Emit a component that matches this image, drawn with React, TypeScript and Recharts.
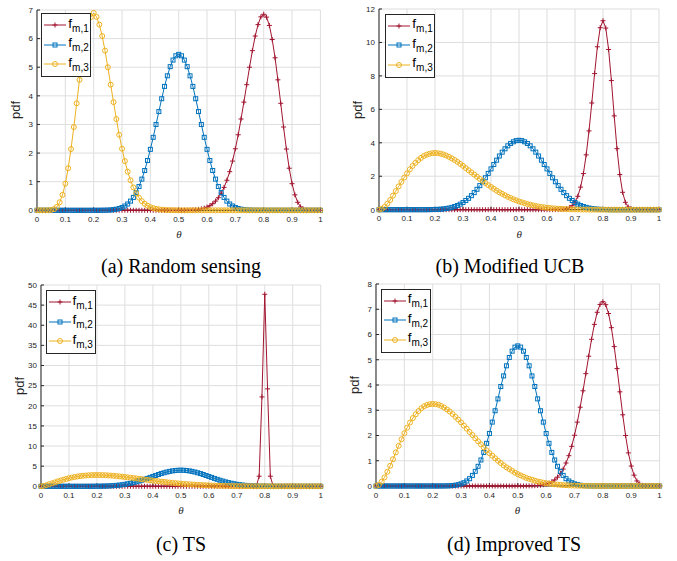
import React from 'react';
import { LineChart, Line, XAxis, YAxis, CartesianGrid } from 'recharts';

// theta grid, 0 to 1 in steps of 0.01
const THETA = [
  0, 0.01, 0.02, 0.03, 0.04, 0.05, 0.06, 0.07, 0.08, 0.09,
  0.1, 0.11, 0.12, 0.13, 0.14, 0.15, 0.16, 0.17, 0.18, 0.19,
  0.2, 0.21, 0.22, 0.23, 0.24, 0.25, 0.26, 0.27, 0.28, 0.29,
  0.3, 0.31, 0.32, 0.33, 0.34, 0.35, 0.36, 0.37, 0.38, 0.39,
  0.4, 0.41, 0.42, 0.43, 0.44, 0.45, 0.46, 0.47, 0.48, 0.49,
  0.5, 0.51, 0.52, 0.53, 0.54, 0.55, 0.56, 0.57, 0.58, 0.59,
  0.6, 0.61, 0.62, 0.63, 0.64, 0.65, 0.66, 0.67, 0.68, 0.69,
  0.7, 0.71, 0.72, 0.73, 0.74, 0.75, 0.76, 0.77, 0.78, 0.79,
  0.8, 0.81, 0.82, 0.83, 0.84, 0.85, 0.86, 0.87, 0.88, 0.89,
  0.9, 0.91, 0.92, 0.93, 0.94, 0.95, 0.96, 0.97, 0.98, 0.99,
  1,
];

const X_TICKS = [0, 0.1, 0.2, 0.3, 0.4, 0.5, 0.6, 0.7, 0.8, 0.9, 1];
const A_TICKS = [0, 1, 2, 3, 4, 5, 6, 7];
const B_TICKS = [0, 2, 4, 6, 8, 10, 12];
const C_TICKS = [0, 5, 10, 15, 20, 25, 30, 35, 40, 45, 50];
const D_TICKS = [0, 1, 2, 3, 4, 5, 6, 7, 8];

const CAPTIONS = ['(a) Random sensing', '(b) Modified UCB', '(c) TS', '(d) Improved TS'];
const SERIES_NAMES = ['m,1', 'm,2', 'm,3'];

// (a) Random sensing
const A_F1 = [
  0, 0, 0, 0, 0, 0, 0, 0, 0, 0,
  0, 0, 0, 0, 0, 0, 0, 0, 0, 0,
  0, 0, 0, 0, 0, 0, 0, 0, 0, 0,
  0, 0, 0, 0, 0, 0, 0, 0, 0, 0,
  0, 0, 0, 0, 0, 0, 0, 0, 0, 0,
  0.001, 0.002, 0.004, 0.006, 0.009, 0.014, 0.022, 0.034, 0.051, 0.076,
  0.11, 0.16, 0.23, 0.32, 0.44, 0.6, 0.8, 1.05, 1.35, 1.72,
  2.15, 2.64, 3.19, 3.78, 4.39, 5.0, 5.58, 6.09, 6.49, 6.76,
  6.85, 6.75, 6.46, 5.97, 5.33, 4.56, 3.74, 2.91, 2.14, 1.47,
  0.93, 0.54, 0.28, 0.12, 0.04, 0.013, 0.003, 0, 0, 0,
  0,
];
const A_F2 = [
  0, 0, 0, 0, 0, 0, 0, 0, 0, 0,
  0, 0, 0, 0, 0, 0, 0, 0, 0, 0,
  0, 0, 0.001, 0.002, 0.004, 0.007, 0.013, 0.023, 0.039, 0.063,
  0.099, 0.15, 0.22, 0.32, 0.45, 0.62, 0.83, 1.09, 1.39, 1.74,
  2.13, 2.55, 3.0, 3.45, 3.9, 4.33, 4.7, 5.02, 5.25, 5.4,
  5.45, 5.4, 5.25, 5.02, 4.7, 4.33, 3.9, 3.45, 3.0, 2.55,
  2.13, 1.74, 1.39, 1.09, 0.83, 0.62, 0.45, 0.32, 0.22, 0.15,
  0.099, 0.063, 0.039, 0.023, 0.013, 0.007, 0.004, 0.002, 0.001, 0,
  0, 0, 0, 0, 0, 0, 0, 0, 0, 0,
  0, 0, 0, 0, 0, 0, 0, 0, 0, 0,
  0,
];
const A_F3 = [
  0, 0, 0, 0, 0.003, 0.013, 0.04, 0.12, 0.28, 0.54,
  0.93, 1.47, 2.14, 2.91, 3.74, 4.56, 5.33, 5.97, 6.46, 6.75,
  6.9, 6.76, 6.49, 6.09, 5.58, 5.0, 4.39, 3.78, 3.19, 2.64,
  2.15, 1.72, 1.35, 1.05, 0.8, 0.6, 0.44, 0.32, 0.23, 0.16,
  0.11, 0.076, 0.051, 0.034, 0.022, 0.014, 0.009, 0.006, 0.004, 0.002,
  0.001, 0, 0, 0, 0, 0, 0, 0, 0, 0,
  0, 0, 0, 0, 0, 0, 0, 0, 0, 0,
  0, 0, 0, 0, 0, 0, 0, 0, 0, 0,
  0, 0, 0, 0, 0, 0, 0, 0, 0, 0,
  0, 0, 0, 0, 0, 0, 0, 0, 0, 0,
  0,
];

// (b) Modified UCB
const B_F1 = [
  0, 0, 0, 0, 0, 0, 0, 0, 0, 0,
  0, 0, 0, 0, 0, 0, 0, 0, 0, 0,
  0, 0, 0, 0, 0, 0, 0, 0, 0, 0,
  0, 0, 0, 0, 0, 0, 0, 0, 0, 0,
  0, 0, 0, 0, 0, 0, 0, 0, 0, 0,
  0, 0, 0, 0, 0, 0, 0, 0, 0, 0,
  0, 0, 0.001, 0.003, 0.006, 0.013, 0.029, 0.061, 0.125, 0.24,
  0.45, 0.8, 1.35, 2.16, 3.28, 4.71, 6.38, 8.14, 9.74, 10.88,
  11.3, 10.86, 9.58, 7.72, 5.61, 3.65, 2.1, 1.04, 0.44, 0.16,
  0.044, 0.01, 0.002, 0, 0, 0, 0, 0, 0, 0,
  0,
];
const B_F2 = [
  0, 0, 0, 0, 0, 0, 0, 0, 0, 0,
  0, 0, 0, 0, 0, 0, 0, 0, 0.004, 0.008,
  0.013, 0.02, 0.031, 0.047, 0.069, 0.098, 0.14, 0.19, 0.25, 0.33,
  0.43, 0.55, 0.68, 0.84, 1.02, 1.22, 1.44, 1.67, 1.91, 2.17,
  2.44, 2.7, 2.96, 3.21, 3.44, 3.64, 3.82, 3.96, 4.06, 4.13,
  4.15, 4.13, 4.06, 3.96, 3.82, 3.64, 3.44, 3.21, 2.96, 2.7,
  2.44, 2.17, 1.91, 1.67, 1.44, 1.22, 1.02, 0.84, 0.68, 0.55,
  0.43, 0.33, 0.25, 0.19, 0.14, 0.098, 0.069, 0.047, 0.031, 0.02,
  0.013, 0.008, 0.004, 0, 0, 0, 0, 0, 0, 0,
  0, 0, 0, 0, 0, 0, 0, 0, 0, 0,
  0,
];
const B_F3 = [
  0, 0.047, 0.17, 0.36, 0.58, 0.84, 1.11, 1.39, 1.66, 1.92,
  2.17, 2.41, 2.62, 2.8, 2.96, 3.1, 3.21, 3.29, 3.34, 3.38,
  3.39, 3.38, 3.35, 3.3, 3.24, 3.16, 3.07, 2.97, 2.86, 2.74,
  2.62, 2.49, 2.36, 2.23, 2.1, 1.97, 1.84, 1.72, 1.59, 1.47,
  1.36, 1.25, 1.14, 1.04, 0.95, 0.86, 0.77, 0.7, 0.62, 0.56,
  0.49, 0.44, 0.39, 0.34, 0.3, 0.26, 0.22, 0.19, 0.16, 0.14,
  0.12, 0.1, 0.084, 0.07, 0.058, 0.048, 0.039, 0.032, 0.026, 0.021,
  0.016, 0.013, 0.01, 0.008, 0.006, 0.004, 0.003, 0.002, 0.002, 0.001,
  0.001, 0, 0, 0, 0, 0, 0, 0, 0, 0,
  0, 0, 0, 0, 0, 0, 0, 0, 0, 0,
  0,
];

// (c) TS
const C_F1 = [
  0, 0, 0, 0, 0, 0, 0, 0, 0, 0,
  0, 0, 0, 0, 0, 0, 0, 0, 0, 0,
  0, 0, 0, 0, 0, 0, 0, 0, 0, 0,
  0, 0, 0, 0, 0, 0, 0, 0, 0, 0,
  0, 0, 0, 0, 0, 0, 0, 0, 0, 0,
  0, 0, 0, 0, 0, 0, 0, 0, 0, 0,
  0, 0, 0, 0, 0, 0, 0, 0, 0, 0,
  0, 0, 0, 0, 0, 0, 0, 0.05, 2.5, 22.2,
  47.7, 24.2, 2.5, 0.05, 0, 0, 0, 0, 0, 0,
  0, 0, 0, 0, 0, 0, 0, 0, 0, 0,
  0,
];
const C_F2 = [
  0, 0, 0, 0, 0, 0, 0, 0, 0, 0,
  0, 0, 0, 0, 0, 0.001, 0.002, 0.004, 0.007, 0.012,
  0.019, 0.029, 0.044, 0.064, 0.091, 0.13, 0.17, 0.23, 0.3, 0.39,
  0.49, 0.62, 0.76, 0.92, 1.09, 1.29, 1.5, 1.73, 1.96, 2.21,
  2.45, 2.69, 2.93, 3.16, 3.36, 3.55, 3.7, 3.83, 3.92, 3.98,
  4.0, 3.98, 3.92, 3.83, 3.7, 3.55, 3.36, 3.16, 2.93, 2.69,
  2.45, 2.21, 1.96, 1.73, 1.5, 1.29, 1.09, 0.92, 0.76, 0.62,
  0.49, 0.39, 0.3, 0.23, 0.17, 0.13, 0.091, 0.064, 0.044, 0.029,
  0.019, 0.012, 0.007, 0.004, 0.002, 0.001, 0, 0, 0, 0,
  0, 0, 0, 0, 0, 0, 0, 0, 0, 0,
  0,
];
const C_F3 = [
  0, 0.11, 0.3, 0.52, 0.75, 0.98, 1.21, 1.43, 1.64, 1.83,
  2.01, 2.17, 2.31, 2.43, 2.53, 2.62, 2.68, 2.74, 2.77, 2.79,
  2.8, 2.79, 2.78, 2.75, 2.71, 2.66, 2.6, 2.54, 2.46, 2.39,
  2.31, 2.23, 2.14, 2.05, 1.96, 1.87, 1.77, 1.68, 1.59, 1.5,
  1.41, 1.32, 1.24, 1.16, 1.08, 1.0, 0.92, 0.85, 0.78, 0.72,
  0.66, 0.6, 0.55, 0.5, 0.45, 0.4, 0.36, 0.32, 0.29, 0.26,
  0.23, 0.2, 0.18, 0.15, 0.13, 0.115, 0.099, 0.085, 0.072, 0.061,
  0.051, 0.042, 0.035, 0.029, 0.023, 0.019, 0.015, 0.012, 0.009, 0.007,
  0.005, 0.004, 0.003, 0.002, 0.001, 0.001, 0, 0, 0, 0,
  0, 0, 0, 0, 0, 0, 0, 0, 0, 0,
  0,
];

// (d) Improved TS
const D_F1 = [
  0, 0, 0, 0, 0, 0, 0, 0, 0, 0,
  0, 0, 0, 0, 0, 0, 0, 0, 0, 0,
  0, 0, 0, 0, 0, 0, 0, 0, 0, 0,
  0, 0, 0, 0, 0, 0, 0, 0, 0, 0,
  0, 0, 0, 0, 0, 0, 0, 0, 0, 0,
  0, 0, 0.001, 0.002, 0.004, 0.007, 0.012, 0.02, 0.031, 0.049,
  0.075, 0.11, 0.17, 0.24, 0.35, 0.49, 0.67, 0.91, 1.2, 1.57,
  2.01, 2.53, 3.12, 3.77, 4.45, 5.14, 5.81, 6.4, 6.88, 7.19,
  7.3, 7.18, 6.83, 6.27, 5.52, 4.65, 3.73, 2.82, 2.0, 1.31,
  0.79, 0.43, 0.2, 0.083, 0.027, 0.007, 0.001, 0, 0, 0,
  0,
];
const D_F2 = [
  0, 0, 0, 0, 0, 0, 0, 0, 0, 0,
  0, 0, 0, 0, 0, 0, 0, 0, 0, 0,
  0, 0, 0.001, 0.002, 0.003, 0.006, 0.01, 0.018, 0.032, 0.053,
  0.085, 0.13, 0.2, 0.29, 0.42, 0.58, 0.78, 1.03, 1.33, 1.69,
  2.08, 2.53, 2.98, 3.45, 3.94, 4.36, 4.76, 5.09, 5.34, 5.5,
  5.55, 5.5, 5.34, 5.09, 4.76, 4.36, 3.94, 3.45, 2.98, 2.53,
  2.08, 1.69, 1.33, 1.03, 0.78, 0.58, 0.42, 0.29, 0.2, 0.13,
  0.085, 0.053, 0.032, 0.018, 0.01, 0.006, 0.003, 0.002, 0.001, 0,
  0, 0, 0, 0, 0, 0, 0, 0, 0, 0,
  0, 0, 0, 0, 0, 0, 0, 0, 0, 0,
  0,
];
const D_F3 = [
  0, 0.045, 0.17, 0.34, 0.56, 0.8, 1.06, 1.33, 1.59, 1.85,
  2.09, 2.31, 2.51, 2.69, 2.84, 2.97, 3.08, 3.16, 3.21, 3.24,
  3.25, 3.24, 3.22, 3.17, 3.11, 3.03, 2.95, 2.85, 2.74, 2.63,
  2.52, 2.39, 2.27, 2.14, 2.02, 1.89, 1.77, 1.65, 1.53, 1.41,
  1.3, 1.2, 1.1, 1.0, 0.91, 0.82, 0.74, 0.67, 0.6, 0.53,
  0.47, 0.42, 0.37, 0.32, 0.28, 0.25, 0.21, 0.18, 0.16, 0.13,
  0.11, 0.097, 0.081, 0.067, 0.056, 0.046, 0.037, 0.031, 0.025, 0.02,
  0.015, 0.012, 0.01, 0.008, 0.006, 0.004, 0.003, 0.002, 0.002, 0.001,
  0.001, 0, 0, 0, 0, 0, 0, 0, 0, 0,
  0, 0, 0, 0, 0, 0, 0, 0, 0, 0,
  0,
];

const COLORS = ['#A2142F', '#0072BD', '#EDB120'];
const AXIS = '#262626';
const SANS = '"Liberation Sans", Arial, sans-serif';
const SERIF = '"Liberation Serif", "Times New Roman", serif';

// plot box in page pixels: [left, right, top, bottom]
const PANELS = [
  { box: [37.3, 320.7, 9.7, 210], yMax: 7, yTicks: A_TICKS, series: [A_F1, A_F2, A_F3], legend: [4, 3.5], captionX: 181, captionY: 266 },
  { box: [379.3, 659.3, 9.3, 210], yMax: 12, yTicks: B_TICKS, series: [B_F1, B_F2, B_F3], legend: [6, 4.5], captionX: 510, captionY: 266 },
  { box: [41, 320.7, 285, 486.3], yMax: 50, yTicks: C_TICKS, series: [C_F1, C_F2, C_F3], legend: [4.5, 5], captionX: 181, captionY: 544 },
  { box: [375.7, 659.3, 284.3, 486.3], yMax: 8, yTicks: D_TICKS, series: [D_F1, D_F2, D_F3], legend: [5, 4.5], captionX: 514, captionY: 544 },
];

const Y_AXIS_W = 40;
const X_AXIS_H = 30;
const M_TOP = 10;
const M_RIGHT = 10;

function Marker({ kind, cx, cy, color }: { kind: number; cx: number; cy: number; color: string }) {
  if (kind === 0) {
    return <path d={`M${cx - 2.5},${cy}h5M${cx},${cy - 2.5}v5`} stroke={color} strokeWidth={1} fill="none" />;
  }
  if (kind === 1) {
    return <rect x={cx - 2} y={cy - 2} width={4} height={4} stroke={color} strokeWidth={1} fill="none" />;
  }
  return <circle cx={cx} cy={cy} r={2.5} stroke={color} strokeWidth={1} fill="none" />;
}

const makeDot = (kind: number) => (p: any) => {
  const { cx, cy, index } = p;
  if (cx == null || cy == null) return <g key={`d-${kind}-${index}`} />;
  return (
    <g key={`d-${kind}-${index}`}>
      <Marker kind={kind} cx={cx} cy={cy} color={COLORS[kind]} />
    </g>
  );
};

function LegendBox({ left, top }: { left: number; top: number }) {
  return (
    <div
      style={{
        position: 'absolute', left, top, width: 50, height: 64, boxSizing: 'border-box',
        border: `1px solid ${AXIS}`, background: '#fff', fontFamily: SANS,
      }}
    >
      {SERIES_NAMES.map((name, i) => (
        <div key={name} style={{ position: 'absolute', left: 1, top: 2 + i * 19.5, height: 18, display: 'flex', alignItems: 'center' }}>
          <svg width={24} height={12} style={{ display: 'block' }}>
            <line x1={1} y1={6} x2={23} y2={6} stroke={COLORS[i]} strokeWidth={1} />
            <Marker kind={i} cx={12} cy={6} color={COLORS[i]} />
          </svg>
          <span style={{ fontSize: 13.5, color: '#000', lineHeight: '13px', marginLeft: 1 }}>
            f<sub style={{ fontSize: 10, verticalAlign: '-4px', lineHeight: '10px' }}>{name}</sub>
          </span>
        </div>
      ))}
    </div>
  );
}

function Panel({ cfg, caption }: { cfg: typeof PANELS[number]; caption: string }) {
  const [x0, x1, y0, y1] = cfg.box;
  const pw = x1 - x0;
  const ph = y1 - y0;
  const data = THETA.map((t, i) => ({ t, f1: cfg.series[0][i], f2: cfg.series[1][i], f3: cfg.series[2][i] }));
  const tickStyle = { fontSize: 8, fill: AXIS, fontFamily: SANS };
  return (
    <>
      <div style={{ position: 'absolute', left: x0 - Y_AXIS_W, top: y0 - M_TOP }}>
        <LineChart
          width={pw + Y_AXIS_W + M_RIGHT}
          height={ph + M_TOP + X_AXIS_H}
          data={data}
          margin={{ top: M_TOP, right: M_RIGHT, left: 0, bottom: 0 }}
        >
          <CartesianGrid stroke="#dedede" strokeWidth={1} />
          <XAxis
            dataKey="t" type="number" domain={[0, 1]} ticks={X_TICKS} interval={0}
            height={X_AXIS_H} tickSize={-3} tickMargin={9} tick={tickStyle}
            stroke={AXIS} tickFormatter={(v: number) => String(v)}
          />
          <XAxis xAxisId="top" orientation="top" type="number" domain={[0, 1]} ticks={X_TICKS} interval={0}
            height={0} tickSize={-3} tick={false} stroke={AXIS} />
          <YAxis
            type="number" domain={[0, cfg.yMax]} ticks={cfg.yTicks} interval={0}
            width={Y_AXIS_W} tickSize={-3} tickMargin={7} tick={tickStyle} stroke={AXIS}
          />
          <YAxis yAxisId="right" orientation="right" type="number" domain={[0, cfg.yMax]} ticks={cfg.yTicks} interval={0}
            width={0} tickSize={-3} tick={false} stroke={AXIS} />
          {(['f1', 'f2', 'f3'] as const).map((k, i) => (
            <Line
              key={k} dataKey={k} type="linear" stroke={COLORS[i]} strokeWidth={1}
              dot={makeDot(i)} activeDot={false} isAnimationActive={false}
            />
          ))}
        </LineChart>
        <LegendBox left={Y_AXIS_W + cfg.legend[0]} top={M_TOP + cfg.legend[1]} />
      </div>
      <div
        style={{
          position: 'absolute', left: x0 - 28, top: (y0 + y1) / 2 - 8, width: 14, height: 16,
          fontFamily: SANS, fontSize: 13, color: AXIS, lineHeight: '16px', textAlign: 'center',
          transform: 'rotate(-90deg)', transformOrigin: '50% 50%', whiteSpace: 'nowrap',
          display: 'flex', justifyContent: 'center',
        }}
      >
        pdf
      </div>
      <div
        style={{
          position: 'absolute', left: (x0 + x1) / 2 - 20, top: y1 + 17, width: 40, textAlign: 'center',
          fontFamily: SERIF, fontStyle: 'italic', fontSize: 11, lineHeight: '14px', color: AXIS,
        }}
      >
        θ
      </div>
      <div
        style={{
          position: 'absolute', left: cfg.captionX - 150, top: cfg.captionY - 12, width: 300, textAlign: 'center',
          fontFamily: SERIF, fontSize: 20, lineHeight: '24px', color: '#000',
        }}
      >
        {caption}
      </div>
    </>
  );
}

export default function App() {
  return (
    <div style={{ position: 'absolute', left: 0, top: 0, width: 677, height: 561, background: '#fff', overflow: 'hidden' }}>
      {PANELS.map((cfg, i) => (
        <Panel key={i} cfg={cfg} caption={CAPTIONS[i]} />
      ))}
    </div>
  );
}
